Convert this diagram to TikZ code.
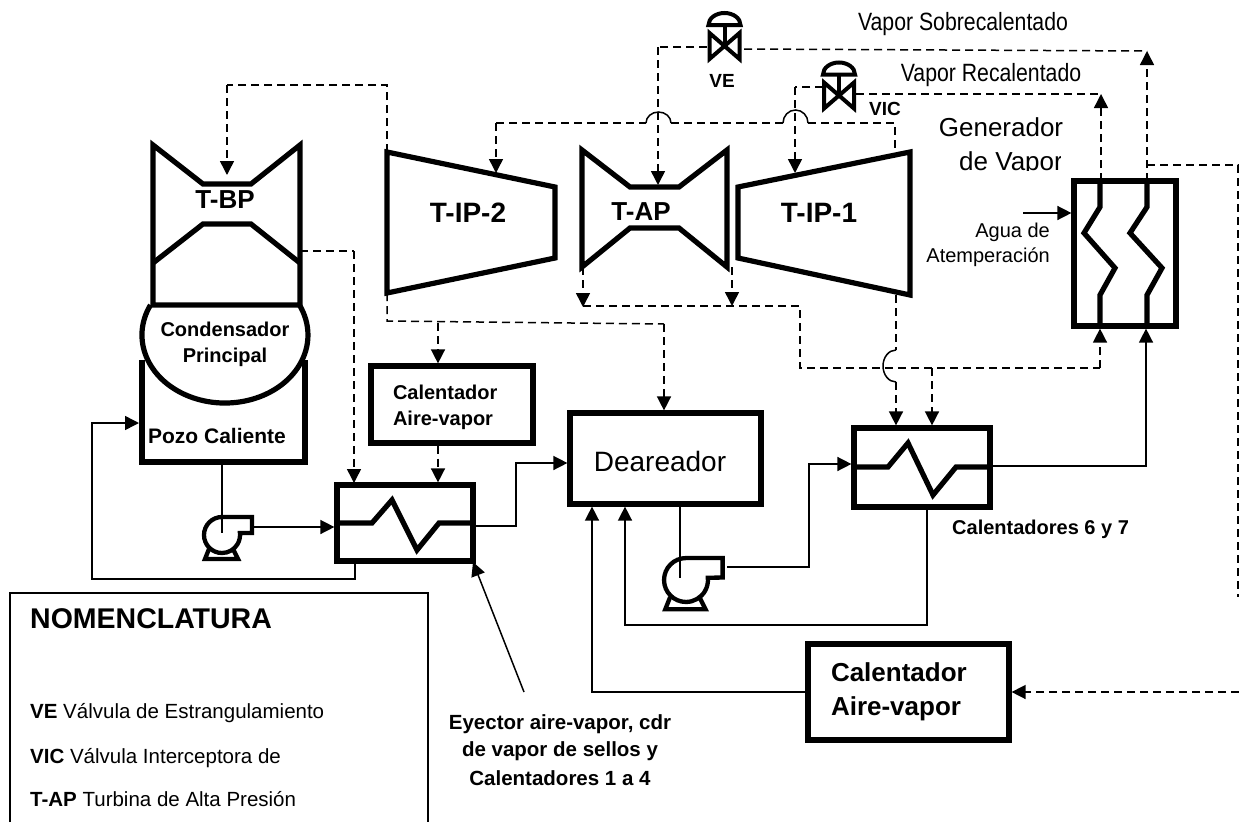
\documentclass[tikz,border=0pt]{standalone}
\usepackage{fontspec}
\setmainfont{Liberation Sans}
\newfontfamily\narrowfont[FakeStretch=0.85]{Liberation Sans}
\usetikzlibrary{arrows.meta}
\newcommand{\fs}[1]{\fontsize{#1}{#1}\selectfont}
\tikzset{
  heavy/.style={line width=5.2pt},
  thinline/.style={line width=1.5pt},
  flow/.style={thinline,-{Triangle[length=14pt,width=14pt]}},
  steam/.style={thinline,dash pattern=on 8pt off 5pt},
  steamarrow/.style={steam,-{Triangle[length=14pt,width=14pt]}},
  unitbox/.style={draw,heavy,minimum width=#1},
  turblabel/.style={inner sep=0pt,font=\bfseries\fs{26}},
  plainlabel/.style={inner sep=0pt,font=\narrowfont\fs{25}},
  smalllabel/.style={inner sep=0pt,font=\bfseries\fs{20}},
  pump/.pic={
    \draw[line width=4.3pt] (0,-18) arc[start angle=270,end angle=-6,radius=18] -- (30,-2) -- (30,-18) -- cycle;
    \draw[line width=4.3pt] (-13,14) -- (-17,24) -- (16,24) -- (11,14);
  },
  valve/.pic={
    \draw[line width=4pt] (-15,-13) -- (15,13) -- (15,-13) -- (-15,13) -- cycle;
    \draw[line width=4pt] (0,0) -- (0,-21);
    \draw[line width=4pt] (-16,-21) -- (16,-21) arc[start angle=0,end angle=-180,x radius=16,y radius=12] -- cycle;
  }
}
\begin{document}
\begin{tikzpicture}[x=1pt,y=-1pt]
    \useasboundingbox (0,0) rectangle (1239,822);

    % boxes
    \node at (452,404.5) [unitbox=162,minimum height=77,text width=118,inner sep=0pt,align=left,font=\bfseries\fs{20}] (calsmall) {\rule{0pt}{21pt}Calentador\\[6pt]Aire-vapor};
    \node at (405,523) [unitbox=136,minimum height=76] (heaterA) {};
    \node at (665.5,458.5) [unitbox=191,minimum height=91] (dea) {};
    \node at (660,461) [inner sep=0pt,font=\fs{28}] (dealabel) {Deareador};
    \node at (922,467.5) [unitbox=136,minimum height=79] (heaterB) {};
    \node at (908.5,692) [unitbox=201,minimum height=96,text width=155,inner sep=0pt,align=left,font=\bfseries\fs{26}] (calbig) {Calentador\\[8pt]Aire-vapor};
    \node at (1125,253.5) [unitbox=102,minimum height=145] (gen) {};

    % turbines
    \draw[heavy] (153,305) -- (153,145) -- (203,184) -- (251,184) -- (300,145) -- (300,305) -- cycle;
    \draw[heavy] (153,263) -- (203,224) -- (251,224) -- (300,263);
    \draw[heavy] (387,152) -- (555,187) -- (555,258) -- (387,293) -- cycle;
    \draw[heavy] (582,150) -- (630,187) -- (679,187) -- (727,150) -- (727,267) -- (679,228) -- (630,228) -- (582,267) -- cycle;
    \draw[heavy] (738,187) -- (910,152) -- (910,295) -- (738,258) -- cycle;
    \node at (225,200) [turblabel] (tbp) {T-BP};
    \node at (468,213) [turblabel,font=\bfseries\fs{28}] (tip2) {T-IP-2};
    \node at (641,212) [turblabel] (tap) {T-AP};
    \node at (819,213) [turblabel,font=\bfseries\fs{28}] (tip1) {T-IP-1};

    % condenser and hot well
    \draw[heavy] (150.5,305) arc[start angle=206.2,end angle=-26.2,x radius=83,y radius=68];
    \draw[heavy] (142,360) -- (142,462) -- (305,462) -- (305,360);
    \node at (225,329) [smalllabel] (cond) {Condensador};
    \node at (225,357) [smalllabel] (princ) {Principal};
    \node at (217,436) [smalllabel,font=\bfseries\fs{21}] (pozo) {Pozo Caliente};

    % coils
    \draw[heavy] (heaterA.west |- 0,523) -- (372,523) -- (392,500) -- (417,550) -- (439,523) -- (heaterA.east |- 0,523);
    \draw[heavy] (heaterB.west |- 0,467) -- (888,467) -- (908,443) -- (933,495) -- (956,467) -- (heaterB.east |- 0,467);
    \draw[heavy] (1100,181) -- (1100,207) -- (1084,233) -- (1115,268) -- (1100,295) -- (1100,326);
    \draw[heavy] (1147,181) -- (1147,207) -- (1130,233) -- (1162,268) -- (1147,295) -- (1147,326);

    % pumps and valves
    \pic at (222,535) {pump};
    \pic at (686,580) [scale=1.22] {pump};
    \pic at (724.5,46) {valve};
    \pic at (839,95.5) {valve};

    % points on the lines
    \coordinate (pozoout) at (222,462);
    \coordinate (pumpAc) at (222,533);
    \coordinate (pumpAo) at (252,527);
    \coordinate (pumpBc) at (680,578);
    \coordinate (pumpBo) at (727,567);
    \coordinate (veL) at (707,47);
    \coordinate (veR) at (744,49);
    \coordinate (vicL) at (823,87);
    \coordinate (vicR) at (856,94);
    \coordinate (tbpin) at (227,175);
    \coordinate (tbpout) at (300,251);
    \coordinate (ip2in) at (496,173);
    \coordinate (ip2top) at (387,152);
    \coordinate (ip2bot) at (387,293);
    \coordinate (apin) at (658,185);
    \coordinate (apL) at (583,267);
    \coordinate (apR) at (732,267);
    \coordinate (ip1in) at (795,173);
    \coordinate (ip1top) at (895,153);
    \coordinate (ip1bot) at (896,295);
    \coordinate (hotin) at (1101,181);
    \coordinate (supin) at (1147,181);
    \coordinate (split) at (438,323);

    % steam lines
    \draw[steam] (veR) -- (1147,51);
    \draw[steamarrow] (supin) -- (1147,51);
    \draw[steam] (veL) -- (658,47);
    \draw[steamarrow] (658,47) -- (apin);
    \draw[steam] (vicR) -- (1101,94);
    \draw[steamarrow] (hotin) -- (1101,94);
    \draw[steam] (vicL) -- (795,87);
    \draw[steamarrow] (795,87) -- (ip1in);
    \draw[steamarrow] (496,123) -- (ip2in);
    \draw[steam] (496,123) -- (646,123);
    \draw[steam] (671,123) -- (783,123);
    \draw[steam] (808,123) -- (895,123) -- (ip1top);
    \draw[thinline] (646,123) arc[start angle=180,end angle=360,x radius=12.5,y radius=11];
    \draw[thinline] (783,123) arc[start angle=180,end angle=360,x radius=12.5,y radius=13];
    \draw[steam] (ip2top) -- (387,85) -- (227,85);
    \draw[steamarrow] (227,85) -- (tbpin);
    \draw[steam] (tbpout) -- (354,251);
    \draw[steamarrow] (354,251) -- (354,483);
    \draw[steam] (ip2bot) -- (387,321) -- (664,324);
    \draw[steamarrow] (664,324) -- (dea.north -| 664,0);
    \draw[steamarrow] (split) -- (calsmall.north -| split);
    \draw[steamarrow] (calsmall.south -| split) -- (heaterA.north -| split);
    \draw[steamarrow] (apL) -- (583,307);
    \draw[steamarrow] (apR) -- (732,306);
    \draw[steam] (583,306) -- (800,306) -- (800,368) -- (1100,368);
    \draw[steamarrow] (1100,368) -- (gen.south -| 1100,0);
    \draw[steamarrow] (932,368) -- (heaterB.north -| 932,0);
    \draw[steam] (ip1bot) -- (896,350);
    \draw[thinline] (896,350) arc[start angle=270,end angle=90,x radius=13,y radius=16];
    \draw[steamarrow] (896,382) -- (heaterB.north -| 896,0);
    \draw[steam] (1147,165) -- (1238,165) -- (1238,597);
    \draw[steamarrow] (1239,692) -- (calbig.east);

    % water lines
    \draw[thinline] (pozoout) -- (pumpAc);
    \draw[flow] (pumpAo) -- (pumpAo -| heaterA.west);
    \draw[flow] (heaterA.east |- 0,526) -- (516,526) -- (516,463) -- (dea.west |- 0,463);
    \draw[flow] (heaterA.south -| 355,0) -- (355,579) -- (92,579) -- (92,423) -- (139,423);
    \draw[thinline] (dea.south -| pumpBc) -- (pumpBc);
    \draw[flow] (pumpBo) -- (809,567) -- (809,464) -- (heaterB.west |- 0,464);
    \draw[flow] (heaterB.east |- 0,466) -- (1146,466) -- (gen.south -| 1146,0);
    \draw[flow] (heaterB.south -| 927,0) -- (927,625) -- (625,625) -- (dea.south -| 625,0);
    \draw[flow] (calbig.west) -- (592,692) -- (dea.south -| 592,0);

    % labels
    \node at (963,24) [plainlabel] (sobre) {Vapor Sobrecalentado};
    \node at (991,75) [plainlabel] (reca) {Vapor Recalentado};
    \node at (722,81) [inner sep=0pt,font=\bfseries\fs{19}] (ve) {VE};
    \node at (885,109) [inner sep=0pt,font=\bfseries\fs{19}] (vic) {VIC};
    \node at (1001,127) [inner sep=0pt,font=\fs{26}] (genA) {Generador};
    \begin{scope}
      \clip (950,140) rectangle (1060,170);
      \node at (1011,164) [inner sep=0pt,font=\fs{26}] (genB) {de Vapor};
    \end{scope}
    \coordinate (aguain) at (1023,213);
    \draw[flow] (aguain) -- (gen.west |- aguain);
    \node at (1050,232) [anchor=east,inner sep=0pt,font=\fs{20}] (aguaA) {Agua de};
    \node at (1050,257) [anchor=east,inner sep=0pt,font=\fs{20}] (aguaB) {Atemperación};
    \node at (952,529) [anchor=west,smalllabel] (cal67) {Calentadores 6 y 7};

    % ejector note
    \node at (560,724) [inner sep=0pt,font=\bfseries\fs{20.5}] (eyA) {Eyector aire-vapor, cdr};
    \node at (560,751) [inner sep=0pt,font=\bfseries\fs{20.5}] (eyB) {de vapor de sellos y};
    \node at (560,778) [inner sep=0pt,font=\bfseries\fs{20.5}] (eyC) {Calentadores 1 a 4};
    \coordinate (eyfrom) at (524,692);
    \draw[flow] (eyfrom) -- (473,562);

    % nomenclature
    \draw[thinline] (10,822) -- (10,593) -- (428,593) -- (428,822);
    \node at (30,619) [anchor=west,inner sep=0pt,font=\bfseries\fs{28.5}] (nom) {NOMENCLATURA};
    \node at (30,713) [anchor=west,inner sep=0pt,font=\fs{20.5}] (nomA) {\textbf{VE} Válvula de Estrangulamiento};
    \node at (30,758) [anchor=west,inner sep=0pt,font=\fs{20.5}] (nomB) {\textbf{VIC} Válvula Interceptora de};
    \node at (30,799) [anchor=west,inner sep=0pt,font=\fs{20.5}] (nomC) {\textbf{T-AP} Turbina de Alta Presión};
\end{tikzpicture}
\end{document}
